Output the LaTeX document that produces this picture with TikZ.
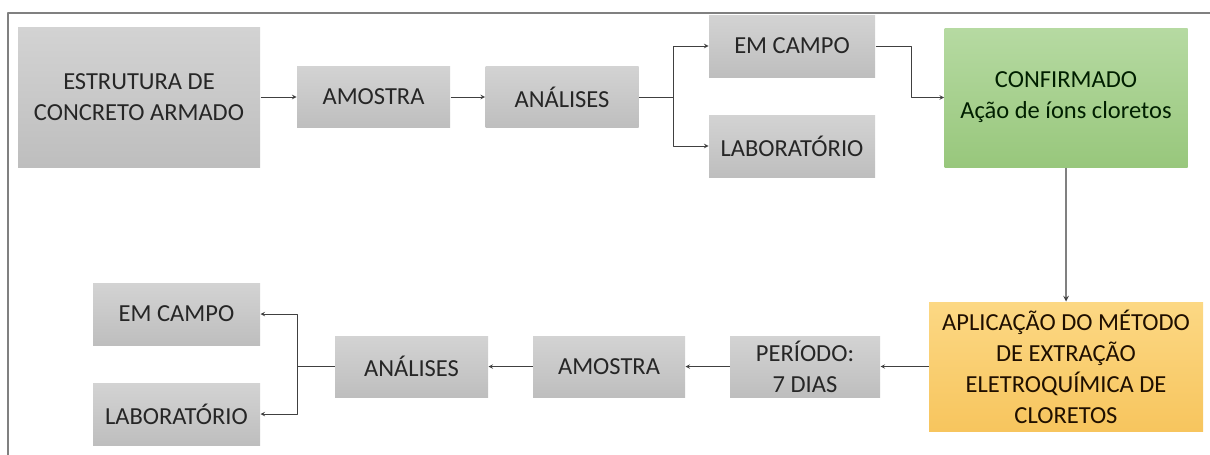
\documentclass[tikz,border=0pt]{standalone}
\usepackage{fontspec}
\setmainfont{Carlito}
\definecolor{boxtop}{HTML}{D3D3D3}
\definecolor{boxbot}{HTML}{BEBEBE}
\definecolor{greentop}{HTML}{B6DAA2}
\definecolor{greenbot}{HTML}{98C77C}
\definecolor{orangetop}{HTML}{FCD884}
\definecolor{orangebot}{HTML}{F7C55E}
\begin{document}
\begin{tikzpicture}[x=1pt,y=-1pt,line join=round,>=stealth,line width=1pt]
\tikzset{box/.style={inner sep=0pt,align=center,text=black!85,font=\fontsize{24.5}{31}\selectfont,top color=boxtop,bottom color=boxbot},
  small box/.style={box,minimum width=153,minimum height=61},
  green box/.style={box,top color=greentop,bottom color=greenbot,text=black!80!green!60!black},
  orange box/.style={box,top color=orangetop,bottom color=orangebot,text=black!80!orange!60!black},
  link/.style={draw=black!75}}
\useasboundingbox (0,0) rectangle (1210,455);
\draw[black!50,line width=2.5pt] (8,455)--(8,13)--(1210,13);
% upper row
\node[box,minimum width=242,minimum height=140] (estrutura) at (139,97) {ESTRUTURA DE\\CONCRETO ARMADO};
\node[small box] (amostraA) at (373.5,97) {AMOSTRA};
\node[small box] (analisesA) at (562,97) {ANÁLISES};
\node[small box,minimum width=166,minimum height=62] (campoA) at (792,46) {EM CAMPO};
\node[small box,minimum width=166,minimum height=62] (labA) at (792,146) {LABORATÓRIO};
\node[green box,minimum width=243,minimum height=139] (confirmado) at (1066,97.5) {CONFIRMADO\\Ação de íons cloretos};
% lower row
\node[orange box,minimum width=274,minimum height=129] (aplicacao) at (1066,366.5) {APLICAÇÃO DO MÉTODO\\DE EXTRAÇÃO\\ELETROQUÍMICA DE\\CLORETOS};
\node[small box,minimum width=150] (periodo) at (805,366.5) {PERÍODO:\\7 DIAS};
\node[small box,minimum width=152] (amostraB) at (609,366.5) {AMOSTRA};
\node[small box] (analisesB) at (411.5,366.5) {ANÁLISES};
\node[small box,minimum width=167,minimum height=62] (campoB) at (176.5,314) {EM CAMPO};
\node[small box,minimum width=167,minimum height=62] (labB) at (176.5,414) {LABORATÓRIO};
\coordinate (forkA) at (673,97);
\coordinate (forkB) at (297,366.5);
\draw[link,->] (estrutura) -- (amostraA);
\draw[link,->] (amostraA) -- (analisesA);
\draw[link] (analisesA) -- (forkA);
\draw[link,->] (forkA) |- (campoA);
\draw[link,->] (forkA) |- (labA);
\draw[link,->] (campoA.east) -- ++(36,0) |- (confirmado.west);
\draw[black!50,line width=1.5pt,-{stealth[black!75]}] (confirmado) -- (aplicacao);
\draw[link,->] (aplicacao) -- (periodo);
\draw[link,->] (periodo) -- (amostraB);
\draw[link,->] (amostraB) -- (analisesB);
\draw[link] (analisesB) -- (forkB);
\draw[link,->] (forkB) |- (campoB);
\draw[link,->] (forkB) |- (labB);
\end{tikzpicture}
\end{document}
